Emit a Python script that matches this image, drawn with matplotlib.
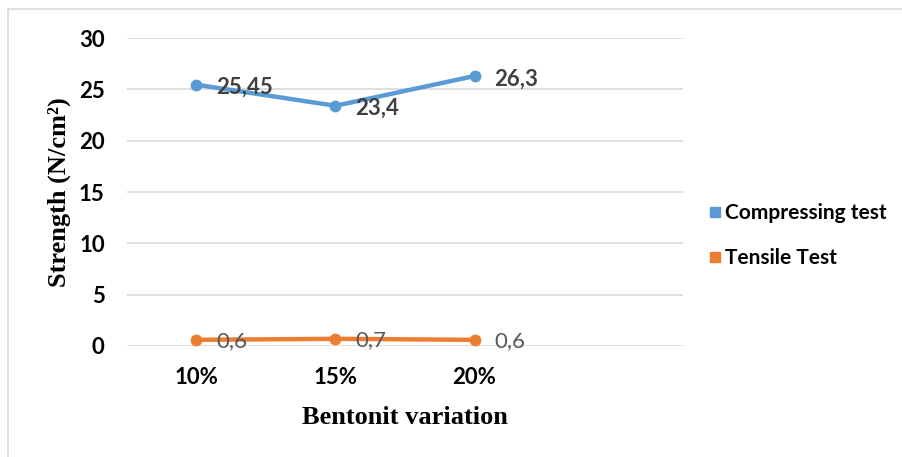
import matplotlib.pyplot as plt
from matplotlib.lines import Line2D
from matplotlib.patches import Rectangle

# Valeurs mesurées
categories = ["10%", "15%", "20%"]
compressing = [25.45, 23.4, 26.3]
tensile = [0.6, 0.7, 0.6]
comp_labels = ["25,45", "23,4", "26,3"]
tens_labels = ["0,6", "0,7", "0,6"]

blue = "#5B9BD5"
orange = "#ED7D31"

fig = plt.figure(figsize=(9.03, 4.57), dpi=100)
ax = fig.add_axes([0.1406, 0.2429, 0.6158, 0.6739])

# cadre du graphique
fig.patches.append(Rectangle((8 / 903, -0.1), 1.2, 1.1 - 9 / 457, transform=fig.transFigure,
                             fill=False, edgecolor="#D9D9D9", linewidth=1.2))

x = list(range(len(categories)))
ax.plot(x, compressing, color=blue, lw=3.2, marker="o", ms=7.5, solid_capstyle="round", zorder=3)
ax.plot(x, tensile, color=orange, lw=3.2, marker="o", ms=7.5, solid_capstyle="round", zorder=3)

for xi, v, s in zip(x, compressing, comp_labels):
    ax.annotate(s, (xi, v), xytext=(14, -2), textcoords="offset points", ha="left", va="center",
                fontsize=16, fontweight="bold", color="#404040", family="Lato")
for xi, v, s in zip(x, tensile, tens_labels):
    ax.annotate(s, (xi, v), xytext=(14, -1), textcoords="offset points", ha="left", va="center",
                fontsize=16, color="#595959", family="Lato")

ax.set_xlim(-0.5, 3.5)
ax.set_ylim(0, 30)
ax.set_yticks(range(0, 31, 5))
ax.set_xticks(x)
ax.set_xticklabels(categories)
ax.grid(axis="y", color="#D9D9D9", lw=1.2)
ax.set_axisbelow(True)
for sp in ax.spines.values():
    sp.set_visible(False)
ax.tick_params(length=0, labelsize=16)
ax.tick_params(axis="y", pad=16)
ax.tick_params(axis="x", pad=15)
for lab in ax.get_xticklabels() + ax.get_yticklabels():
    lab.set_fontweight("bold")
    lab.set_family("Lato")

ax.set_ylabel("Strength (N/cm²)", family="Liberation Serif", fontweight="bold", fontsize=19, labelpad=6)
ax.set_xlabel("Bentonit variation", family="Liberation Serif", fontweight="bold", fontsize=19, labelpad=13)

handles = [Line2D([], [], ls="none", marker="s", ms=6.5, color=blue),
           Line2D([], [], ls="none", marker="s", ms=6.5, color=orange)]
fig.legend(handles, ["Compressing test", "Tensile Test"], loc="center left",
           bbox_to_anchor=(0.759, 0.484), frameon=False, handletextpad=0.0,
           handlelength=1.0, labelspacing=1.2, prop={"family": "Lato", "weight": "bold", "size": 15})

fig.savefig("out.png", dpi=100)
